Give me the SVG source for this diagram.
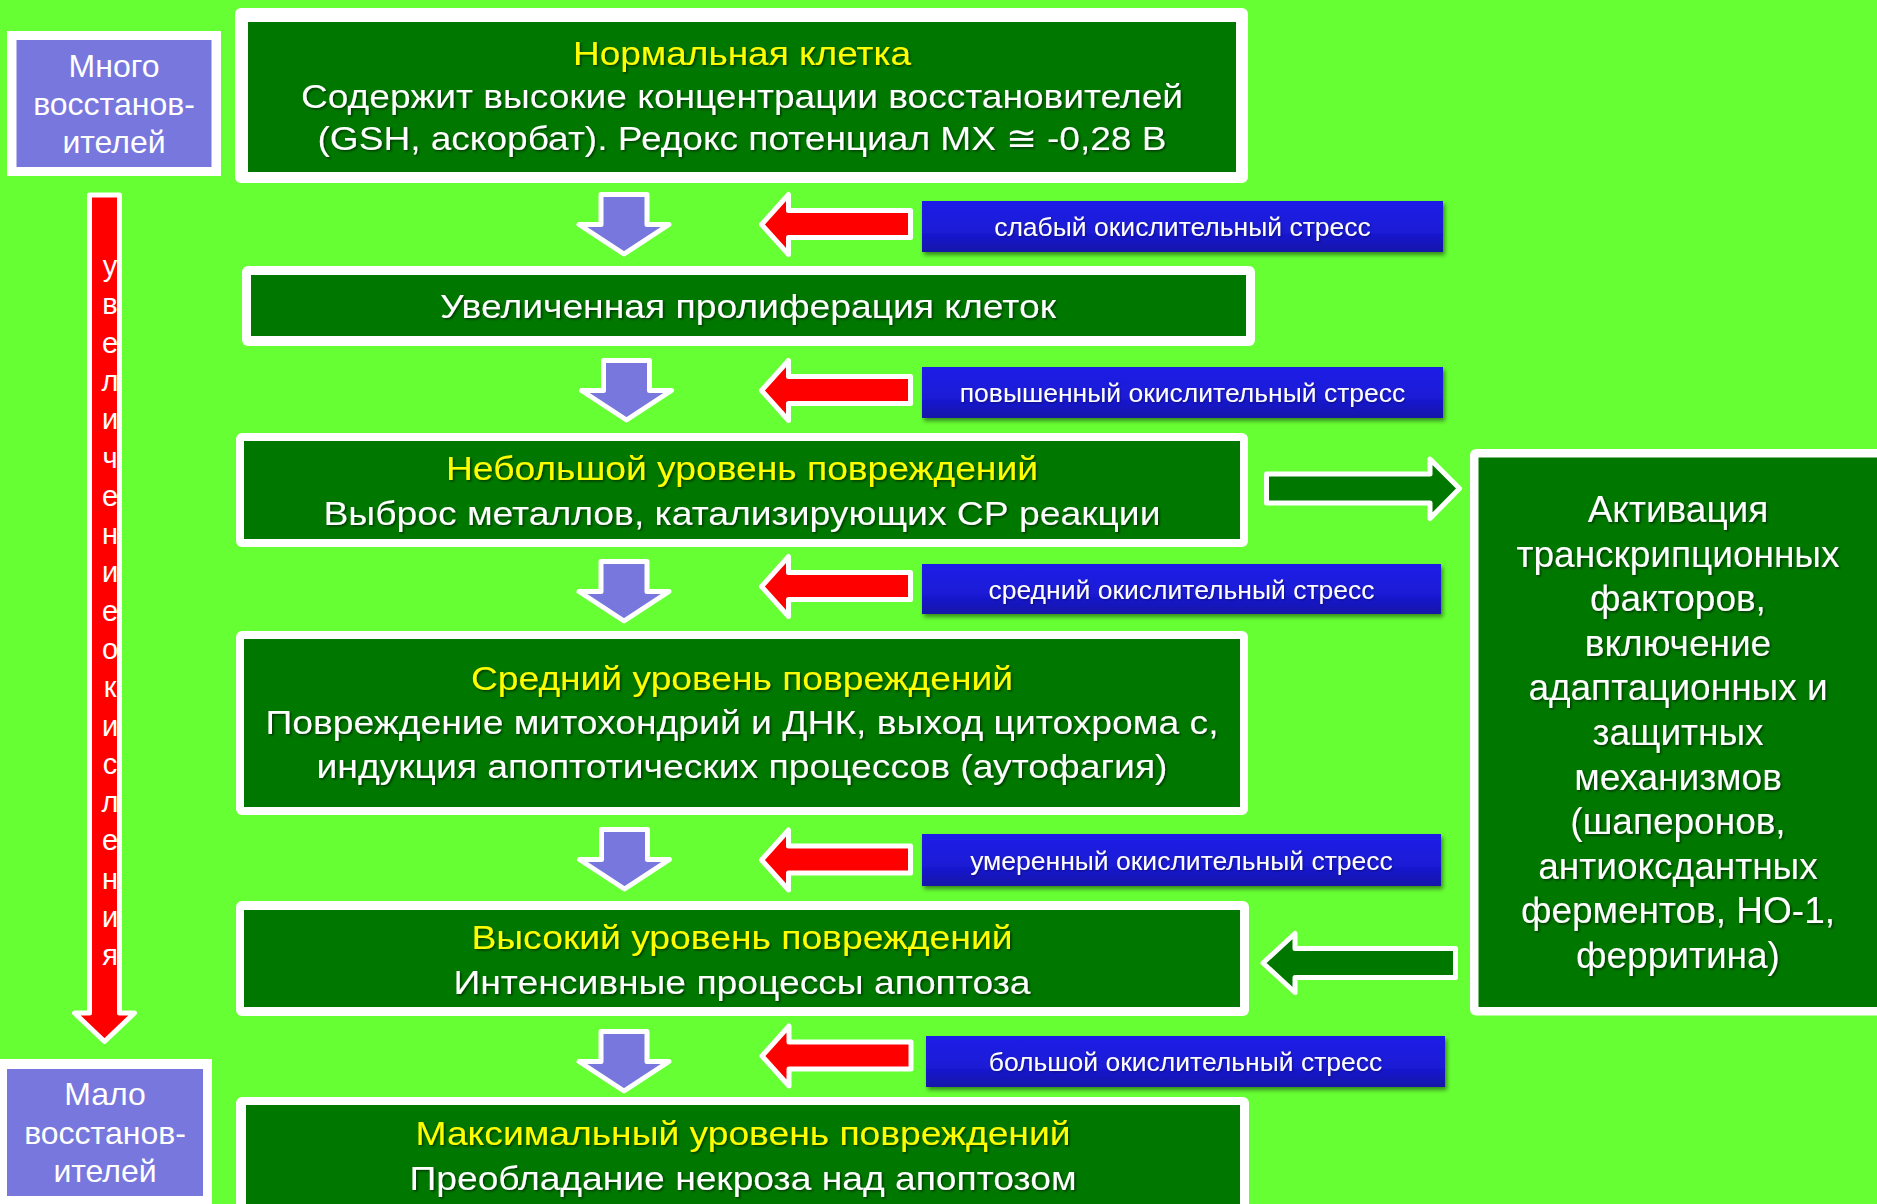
<svg xmlns="http://www.w3.org/2000/svg" width="1877" height="1204" viewBox="0 0 1877 1204">
<style>
.bg{fill:#66FF33}
.wb{fill:#FFFFFF}
.gr{fill:#007800}
.pu{fill:#7777DD}
.t{font-family:"Liberation Sans",Arial,sans-serif;text-anchor:middle}
.main{font-size:34px;fill:#FFFFFF;filter:url(#ts)}
.yel{fill:#FFFF00}
.side{font-size:37px;fill:#FFFFFF;filter:url(#ts)}
.lbl{font-size:26.5px;fill:#FFFFFF;filter:url(#ts2)}
.left{font-size:32px;fill:#FFFFFF}
.vert{font-size:29px;fill:#FFFFFF}
.arr{stroke:#FFFFFF;stroke-width:5;stroke-linejoin:round}
.dn{fill:#7777DD}
.rd{fill:#FF0000}
.ga{fill:#007800}
</style>
<defs>
<filter id="ts" x="-5%" y="-20%" width="110%" height="150%">
<feDropShadow dx="1.5" dy="1.5" stdDeviation="1" flood-color="#000000" flood-opacity="0.55"/>
</filter>
<filter id="ts2" x="-5%" y="-20%" width="110%" height="150%">
<feDropShadow dx="1" dy="1" stdDeviation="0.8" flood-color="#000000" flood-opacity="0.4"/>
</filter>
<filter id="bs" x="-5%" y="-20%" width="110%" height="160%">
<feDropShadow dx="2" dy="3" stdDeviation="2" flood-color="#000000" flood-opacity="0.45"/>
</filter>
<linearGradient id="bg1" x1="0" y1="0" x2="0" y2="1">
<stop offset="0" stop-color="#1E1EE8"/>
<stop offset="0.6" stop-color="#1A1AD6"/>
<stop offset="1" stop-color="#1414A8"/>
</linearGradient>
<polygon id="down" points="-23,0 23,0 23,30 45,30 0,59.5 -45,30 -23,30"/>
<polygon id="left" points="0,0 27,-30 27,-14 149,-14 149,13 27,13 27,30"/>
</defs>
<rect class="bg" x="0" y="0" width="1877" height="1204"/>

<g id="connectors">
<use href="#down" class="arr dn" transform="translate(624,194.5)"/>
<use href="#down" class="arr dn" transform="translate(626.5,360.5)"/>
<use href="#down" class="arr dn" transform="translate(624,561.5)"/>
<use href="#down" class="arr dn" transform="translate(624.5,829.5)"/>
<use href="#down" class="arr dn" transform="translate(624,1031.5)"/>
<use href="#left" class="arr rd" transform="translate(761.5,224.5)"/>
<use href="#left" class="arr rd" transform="translate(761.5,390.5)"/>
<use href="#left" class="arr rd" transform="translate(761.5,586.5)"/>
<use href="#left" class="arr rd" transform="translate(761.5,860)"/>
<use href="#left" class="arr rd" transform="translate(762,1056)"/>
<polygon class="arr ga" points="1266.5,474 1430,474 1430,459 1459.5,488.5 1430,518.5 1430,503 1266.5,503"/>
<polygon class="arr ga" points="1263,963 1295,933.5 1295,948.5 1455.5,948.5 1455.5,977.5 1295,977.5 1295,992.5"/>
<g id="oxidation-arrow">
<polygon class="arr rd" points="89.5,195 119.5,195 119.5,1013 134.5,1013 104.5,1041.5 74.5,1013 89.5,1013"/>
<text class="t vert" x="110" y="276">у<tspan x="110" dy="38.3">в</tspan><tspan x="110" dy="38.3">е</tspan><tspan x="110" dy="38.3">л</tspan><tspan x="110" dy="38.3">и</tspan><tspan x="110" dy="38.3">ч</tspan><tspan x="110" dy="38.3">е</tspan><tspan x="110" dy="38.3">н</tspan><tspan x="110" dy="38.3">и</tspan><tspan x="110" dy="38.3">е</tspan><tspan x="110" dy="38.3">о</tspan><tspan x="110" dy="38.3">к</tspan><tspan x="110" dy="38.3">и</tspan><tspan x="110" dy="38.3">с</tspan><tspan x="110" dy="38.3">л</tspan><tspan x="110" dy="38.3">е</tspan><tspan x="110" dy="38.3">н</tspan><tspan x="110" dy="38.3">и</tspan><tspan x="110" dy="38.3">я</tspan></text>
</g>
</g>

<g id="many-reducers">
<rect class="wb" x="7" y="31" width="214" height="145"/>
<rect class="pu" x="16.5" y="40" width="195" height="127"/>
<text class="t left" x="114" y="77">Много</text>
<text class="t left" x="114" y="115">восстанов-</text>
<text class="t left" x="114" y="153">ителей</text>
</g>

<g id="few-reducers">
<rect class="wb" x="-3" y="1059" width="215" height="160"/>
<rect class="pu" x="7" y="1069" width="196" height="127"/>
<text class="t left" x="105" y="1105">Мало</text>
<text class="t left" x="105" y="1144">восстанов-</text>
<text class="t left" x="105" y="1182">ителей</text>
</g>

<g id="normal-cell">
<rect class="wb" x="235" y="8" width="1013" height="175" rx="6"/>
<rect class="gr" x="248" y="22" width="988" height="150"/>
<text class="t main yel" x="742" y="65" textLength="338" lengthAdjust="spacingAndGlyphs">Нормальная клетка</text>
<text class="t main" x="742" y="108" textLength="882" lengthAdjust="spacingAndGlyphs">Содержит высокие концентрации восстановителей</text>
<text class="t main" x="742" y="150" textLength="849" lengthAdjust="spacingAndGlyphs">(GSH, аскорбат). Редокс потенциал МХ ≅ -0,28 В</text>
</g>

<g id="proliferation">
<rect class="wb" x="242" y="266" width="1013" height="80" rx="6"/>
<rect class="gr" x="251" y="275" width="995" height="61"/>
<text class="t main" x="748" y="318" textLength="616" lengthAdjust="spacingAndGlyphs">Увеличенная пролиферация клеток</text>
</g>

<g id="small-damage">
<rect class="wb" x="236" y="433" width="1012" height="114" rx="6"/>
<rect class="gr" x="244" y="441" width="996" height="98"/>
<text class="t main yel" x="742" y="480" textLength="592" lengthAdjust="spacingAndGlyphs">Небольшой уровень повреждений</text>
<text class="t main" x="742" y="525" textLength="837" lengthAdjust="spacingAndGlyphs">Выброс металлов, катализирующих СР реакции</text>
</g>

<g id="medium-damage">
<rect class="wb" x="236" y="631" width="1012" height="184" rx="6"/>
<rect class="gr" x="244" y="639" width="996" height="168"/>
<text class="t main yel" x="742" y="690" textLength="542" lengthAdjust="spacingAndGlyphs">Средний уровень повреждений</text>
<text class="t main" x="742" y="734" textLength="953" lengthAdjust="spacingAndGlyphs">Повреждение митохондрий и ДНК, выход цитохрома с,</text>
<text class="t main" x="742" y="778" textLength="851" lengthAdjust="spacingAndGlyphs">индукция апоптотических процессов (аутофагия)</text>
</g>

<g id="high-damage">
<rect class="wb" x="236" y="901" width="1013" height="115" rx="6"/>
<rect class="gr" x="244" y="910" width="996" height="97"/>
<text class="t main yel" x="742" y="949" textLength="541" lengthAdjust="spacingAndGlyphs">Высокий уровень повреждений</text>
<text class="t main" x="742" y="994" textLength="577" lengthAdjust="spacingAndGlyphs">Интенсивные процессы апоптоза</text>
</g>

<g id="max-damage">
<rect class="wb" x="236" y="1097" width="1013" height="130" rx="6"/>
<rect class="gr" x="246" y="1105" width="994" height="115"/>
<text class="t main yel" x="743" y="1145" textLength="655" lengthAdjust="spacingAndGlyphs">Максимальный уровень повреждений</text>
<text class="t main" x="743" y="1190" textLength="667" lengthAdjust="spacingAndGlyphs">Преобладание некроза над апоптозом</text>
</g>

<g id="adaptation">
<rect class="wb" x="1470" y="449" width="420" height="566.5" rx="6"/>
<rect class="gr" x="1478.5" y="457.5" width="420" height="549.5"/>
<text class="t side" x="1678" y="522">Активация</text>
<text class="t side" x="1678" y="566.6">транскрипционных</text>
<text class="t side" x="1678" y="611.2">факторов,</text>
<text class="t side" x="1678" y="655.8">включение</text>
<text class="t side" x="1678" y="700.4">адаптационных и</text>
<text class="t side" x="1678" y="745">защитных</text>
<text class="t side" x="1678" y="789.6">механизмов</text>
<text class="t side" x="1678" y="834.2">(шаперонов,</text>
<text class="t side" x="1678" y="878.8">антиоксдантных</text>
<text class="t side" x="1678" y="923.4">ферментов, НО-1,</text>
<text class="t side" x="1678" y="968">ферритина)</text>
</g>

<g id="stress-weak">
<rect x="922" y="201" width="521" height="51" fill="url(#bg1)" filter="url(#bs)"/>
<text class="t lbl" x="1182.5" y="236">слабый окислительный стресс</text>
</g>
<g id="stress-elevated">
<rect x="922" y="367" width="521" height="51" fill="url(#bg1)" filter="url(#bs)"/>
<text class="t lbl" x="1182.5" y="402">повышенный окислительный стресс</text>
</g>
<g id="stress-medium">
<rect x="922" y="564" width="519" height="50" fill="url(#bg1)" filter="url(#bs)"/>
<text class="t lbl" x="1181.5" y="599">средний окислительный стресс</text>
</g>
<g id="stress-moderate">
<rect x="922" y="834" width="519" height="52" fill="url(#bg1)" filter="url(#bs)"/>
<text class="t lbl" x="1181.5" y="870">умеренный окислительный стресс</text>
</g>
<g id="stress-large">
<rect x="926" y="1036" width="519" height="51" fill="url(#bg1)" filter="url(#bs)"/>
<text class="t lbl" x="1185.5" y="1071">большой окислительный стресс</text>
</g>
</svg>
